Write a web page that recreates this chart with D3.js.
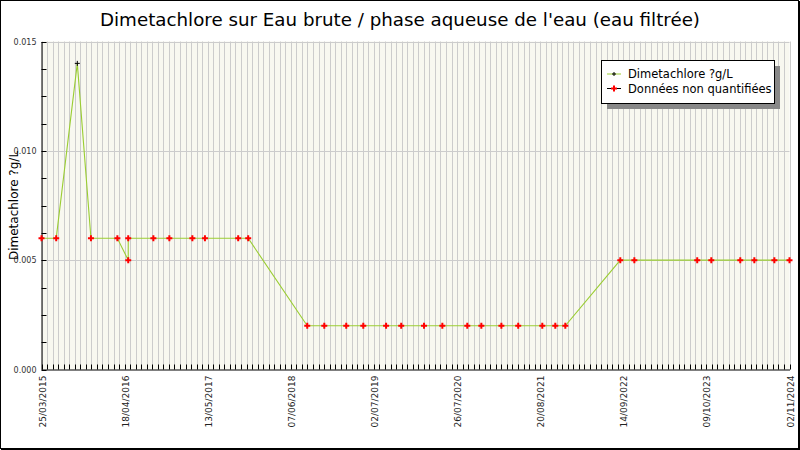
<!DOCTYPE html>
<html>
<head>
<meta charset="utf-8">
<script src="https://cdn.jsdelivr.net/npm/d3@7"></script>
<style>
  html, body { margin: 0; padding: 0; background: #fff; }
  svg { display: block; }
  text { font-family: "DejaVu Sans", sans-serif; }
</style>
</head>
<body>
<svg id="chart" width="800" height="450"></svg>
<script>
// ---- data ----
const titleText = "Dimetachlore sur Eau brute / phase aqueuse de l'eau (eau filtrée)";
const yAxisTitle = "Dimetachlore ?g/L";
const seriesNames = ["Dimetachlore ?g/L", "Données non quantifiées"];

const dates = [
  "2015-03-25", "2015-06-02", "2015-09-09", "2015-11-12", "2016-03-15",
  "2016-05-05", "2016-05-05", "2016-08-31", "2016-11-14", "2017-03-02",
  "2017-04-30", "2017-10-03", "2017-11-19", "2018-08-23", "2018-11-11",
  "2019-02-22", "2019-05-13", "2019-08-28", "2019-11-07", "2020-02-22",
  "2020-05-18", "2020-09-12", "2020-11-17", "2021-02-19", "2021-05-09",
  "2021-08-30", "2021-10-30", "2021-12-16", "2022-08-31", "2022-11-05",
  "2023-08-27", "2023-11-01", "2024-03-16", "2024-05-21", "2024-08-23",
  "2024-11-02"
];
const values = [
  0.006, 0.006, 0.014, 0.006, 0.006,
  0.005, 0.006, 0.006, 0.006, 0.006,
  0.006, 0.006, 0.006, 0.002, 0.002,
  0.002, 0.002, 0.002, 0.002, 0.002,
  0.002, 0.002, 0.002, 0.002, 0.002,
  0.002, 0.002, 0.002, 0.005, 0.005,
  0.005, 0.005, 0.005, 0.005, 0.005,
  0.005
];
// 1 = quantified, 0 = non quantified
const quantified = [
  0, 0, 1, 0, 0,
  0, 0, 0, 0, 0,
  0, 0, 0, 0, 0,
  0, 0, 0, 0, 0,
  0, 0, 0, 0, 0,
  0, 0, 0, 0, 0,
  0, 0, 0, 0, 0,
  0
];

const xStart = "2015-03-25";
const xEnd = "2024-11-02";
const xMinorStepDays = 26;
const xLabelEvery = 15;
const xTickLabels = [
  "25/03/2015", "18/04/2016", "13/05/2017", "07/06/2018", "02/07/2019",
  "26/07/2020", "20/08/2021", "14/09/2022", "09/10/2023", "02/11/2024"
];
const yMax = 0.015;
const yMajorTicks = [0, 0.005, 0.010, 0.015];
const yMinorStep = 0.00125;

// ---- layout ----
const W = 800, H = 450;
const L = 41.5, R = 789.5, T = 41.5, B = 369.5;
const lineColor = "#9acd32";
const nqColor = "#ff0000";

const parse = d3.utcParse("%Y-%m-%d");
const data = dates.map((d, i) => ({ date: parse(d), value: values[i], q: quantified[i] }));

const svg = d3.select("#chart");

// outer frame
svg.append("rect").attr("x", 0.5).attr("y", 0.5).attr("width", W - 2).attr("height", H - 2)
  .attr("fill", "#fff").attr("stroke", "#000").attr("stroke-width", 1);
svg.append("line").attr("x1", W - 0.5).attr("x2", W - 0.5).attr("y1", 1).attr("y2", H).attr("stroke", "#000");
svg.append("line").attr("x1", 1).attr("x2", W).attr("y1", H - 0.5).attr("y2", H - 0.5).attr("stroke", "#000");

const x = d3.scaleUtc().domain([parse(xStart), parse(xEnd)]).range([L, R]);
const y = d3.scaleLinear().domain([0, yMax]).range([B, T]);

const dayMs = 86400000;
const totalDays = Math.round((parse(xEnd) - parse(xStart)) / dayMs);
const minorDates = d3.range(0, totalDays + 1, xMinorStepDays).map(k => new Date(parse(xStart).getTime() + k * dayMs));

// plot background
svg.append("rect").attr("x", L).attr("y", T).attr("width", R - L).attr("height", B - T)
  .attr("fill", "#f8f8f0");

// vertical grid
svg.append("g").selectAll("line").data(minorDates).join("line")
  .attr("x1", d => Math.round(x(d)) + 0.5).attr("x2", d => Math.round(x(d)) + 0.5)
  .attr("y1", T).attr("y2", B)
  .attr("stroke", "#cccccc").attr("stroke-width", 1);

// horizontal grid
svg.append("g").selectAll("line").data(yMajorTicks.filter(v => v > 0)).join("line")
  .attr("x1", L).attr("x2", R)
  .attr("y1", d => Math.round(y(d)) + 0.5).attr("y2", d => Math.round(y(d)) + 0.5)
  .attr("stroke", "#cccccc").attr("stroke-width", 1);

// x axis
const xAxis = d3.axisBottom(x)
  .tickValues(minorDates)
  .tickSizeInner(-5).tickSizeOuter(0).tickPadding(6)
  .tickFormat((d, i) => i % xLabelEvery === 0 ? xTickLabels[i / xLabelEvery] : "");
const gx = svg.append("g").attr("transform", `translate(0,${B})`).call(xAxis);
gx.selectAll(".tick line").attr("stroke", "#000");
gx.select(".domain").attr("stroke", "#000");
gx.selectAll(".tick").attr("transform", d => `translate(${Math.round(x(d)) + 0.5},0)`);
gx.selectAll(".tick text")
  .attr("font-family", "DejaVu Sans, sans-serif")
  .attr("font-size", 9)
  .attr("fill", "#222")
  .attr("transform", "rotate(-90)")
  .attr("text-anchor", "end")
  .attr("x", -6).attr("y", 0).attr("dy", "0.35em");

// y axis
const yTickVals = d3.range(0, yMax + 1e-9, yMinorStep);
const yAxis = d3.axisLeft(y)
  .tickValues(yTickVals)
  .tickSizeInner(-5).tickSizeOuter(0).tickPadding(5)
  .tickFormat(d => yMajorTicks.some(m => Math.abs(m - d) < 1e-9) ? d3.format(".3f")(d) : "");
const gy = svg.append("g").attr("transform", `translate(${L},0)`).call(yAxis);
gy.selectAll(".tick line").attr("stroke", "#000");
gy.select(".domain").attr("stroke", "#000");
gy.selectAll(".tick").attr("transform", d => `translate(0,${Math.round(y(d)) + 0.5})`);
gy.selectAll(".tick text")
  .attr("font-family", "DejaVu Sans, sans-serif")
  .attr("font-size", 8)
  .attr("fill", "#333");

// line
const line = d3.line().x(d => x(d.date)).y(d => y(d.value));
svg.append("path").datum(data).attr("d", line)
  .attr("fill", "none").attr("stroke", lineColor).attr("stroke-width", 1.1);

// markers
const plusPath = s => `M${-s},0H${s}M0,${-s}V${s}`;
svg.append("g").selectAll("path").data(data.filter(d => !d.q)).join("path")
  .attr("transform", d => `translate(${x(d.date)},${y(d.value)})`)
  .attr("d", plusPath(3))
  .attr("stroke", nqColor).attr("stroke-width", 2).attr("fill", "none");
svg.append("g").selectAll("path").data(data.filter(d => d.q)).join("path")
  .attr("transform", d => `translate(${x(d.date)},${y(d.value)})`)
  .attr("d", plusPath(2.5))
  .attr("stroke", "#000").attr("stroke-width", 1).attr("fill", "none");

// title
svg.append("text").attr("x", 400).attr("y", 26).attr("text-anchor", "middle")
  .attr("font-family", "DejaVu Sans Condensed, DejaVu Sans, sans-serif")
  .attr("font-size", 18.5).attr("fill", "#000")
  .attr("textLength", 600).attr("lengthAdjust", "spacingAndGlyphs")
  .text(titleText);

// y axis title
svg.append("text").attr("transform", `translate(18,${(T + B) / 2}) rotate(-90)`)
  .attr("text-anchor", "middle")
  .attr("font-size", 12).attr("fill", "#000")
  .text(yAxisTitle);

// legend
const lg = svg.append("g");
lg.append("rect").attr("x", 607).attr("y", 66).attr("width", 173).attr("height", 43).attr("fill", "#888");
lg.append("rect").attr("x", 601.5).attr("y", 60.5).attr("width", 173).attr("height", 43)
  .attr("fill", "#fff").attr("stroke", "#000").attr("stroke-width", 1);
const legendItems = [
  { name: seriesNames[0], lineC: lineColor, markC: "#000", s: 2, w: 1 },
  { name: seriesNames[1], lineC: "#000", markC: nqColor, s: 3, w: 2 }
];
legendItems.forEach((it, i) => {
  const cy = 74 + i * 14.5;
  lg.append("line").attr("x1", 607).attr("x2", 621).attr("y1", cy).attr("y2", cy)
    .attr("stroke", it.lineC).attr("stroke-width", 1);
  lg.append("path").attr("transform", `translate(614,${cy})`).attr("d", plusPath(it.s))
    .attr("stroke", it.markC).attr("stroke-width", it.w).attr("fill", "none");
  lg.append("text").attr("x", 628).attr("y", cy).attr("dy", "0.35em")
    .attr("font-size", 11.5).attr("fill", "#000").text(it.name);
});
</script>
</body>
</html>
